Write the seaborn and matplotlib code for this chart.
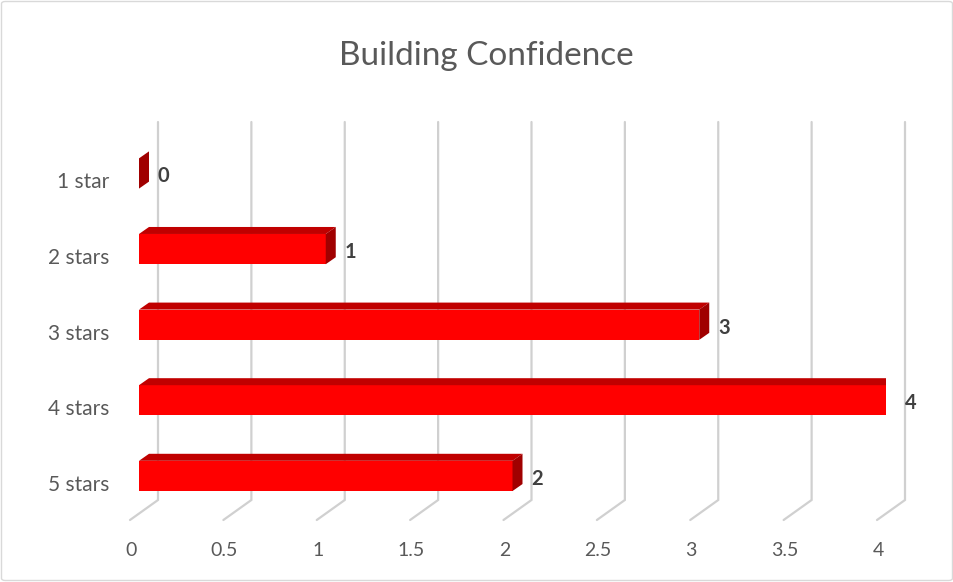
import matplotlib
matplotlib.use("Agg")
import matplotlib.pyplot as plt
from matplotlib.patches import Polygon, FancyBboxPatch
from matplotlib.transforms import ScaledTranslation
import seaborn as sns

# data
categories = ["1 star", "2 stars", "3 stars", "4 stars", "5 stars"]
values = [0, 1, 3, 4, 2]
xticks = [0, 0.5, 1, 1.5, 2, 2.5, 3, 3.5, 4]
xtick_labels = ["0", "0.5", "1", "1.5", "2", "2.5", "3", "3.5", "4"]

sns.set_theme(style="white")
plt.rcParams["font.family"] = ["Lato", "DejaVu Sans"]

W, H = 954, 582
fig = plt.figure(figsize=(W / 100, H / 100), dpi=100)
# axes: front plane x 0..4 -> px 139..886, y px 122..520
ax = fig.add_axes([139 / W, 1 - 520 / H, (886 - 139) / W, 398 / H])

sns.barplot(x=values, y=categories, orient="h", color="#FF0000", width=0.4,
            saturation=1, ax=ax, zorder=3, linewidth=0)

ax.set_xlim(0, 4)
ax.set_ylim(4.583, -0.681)
ppx = 4 / (886 - 139)        # data per px in x
ppy = 1 / 75.6               # data per px in y

# 3d bar faces
bdx, bdy = 10 * ppx, -7 * ppy
for p in ax.patches[:]:
    x0, y0 = p.get_x(), p.get_y()
    w, h = p.get_width(), p.get_height()
    x1 = x0 + w
    top = Polygon([(x0, y0), (x0 + bdx, y0 + bdy), (x1 + bdx, y0 + bdy), (x1, y0)],
                  closed=True, fc="#C00000", ec="none", zorder=3)
    side = Polygon([(x1, y0), (x1 + bdx, y0 + bdy), (x1 + bdx, y0 + h + bdy), (x1, y0 + h)],
                   closed=True, fc="#A00000", ec="none", zorder=3)
    ax.add_patch(top)
    ax.add_patch(side)

# back wall gridlines + floor diagonals
gdx = 19 * ppx
ytop, yback = -0.681, 4.583 - 20 * ppy
yfront = 4.583
for v in xticks:
    ax.plot([v + gdx, v + gdx, v - 9 * ppx], [ytop, yback, yfront], color="#D0D0D0",
            lw=1.6, zorder=1, clip_on=False, solid_joinstyle="miter")

# data labels
for i, v in enumerate(values):
    ax.text(v + 19 * ppx, i + 3 * ppy, str(v), ha="left", va="center",
            fontsize=14.5, fontweight="bold", color="#404040", zorder=4)

for s in ax.spines.values():
    s.set_visible(False)
ax.set_xlabel("")
ax.set_ylabel("")
ax.set_xticks(xticks)
ax.set_xticklabels(xtick_labels)
ax.tick_params(axis="x", length=0, pad=16, labelsize=14, labelcolor="#595959")
ax.tick_params(axis="y", length=0, pad=21.5, labelsize=15, labelcolor="#595959")
for lab in ax.get_xticklabels():
    lab.set_transform(lab.get_transform() + ScaledTranslation(-8 / 100, 0, fig.dpi_scale_trans))
for lab in ax.get_yticklabels():
    lab.set_transform(lab.get_transform() + ScaledTranslation(0, -7 / 100, fig.dpi_scale_trans))

fig.text(486 / W, 1 - 56 / H, "Building Confidence", ha="center", va="center",
         fontsize=24, color="#595959")

fig.patches.append(FancyBboxPatch((1.5 / W, 1.5 / H), (W - 3) / W, (H - 3) / H,
                                  boxstyle="round,pad=0,rounding_size=0.004",
                                  transform=fig.transFigure, fc="none",
                                  ec="#D9D9D9", lw=1))

fig.savefig("out.png", dpi=100)
